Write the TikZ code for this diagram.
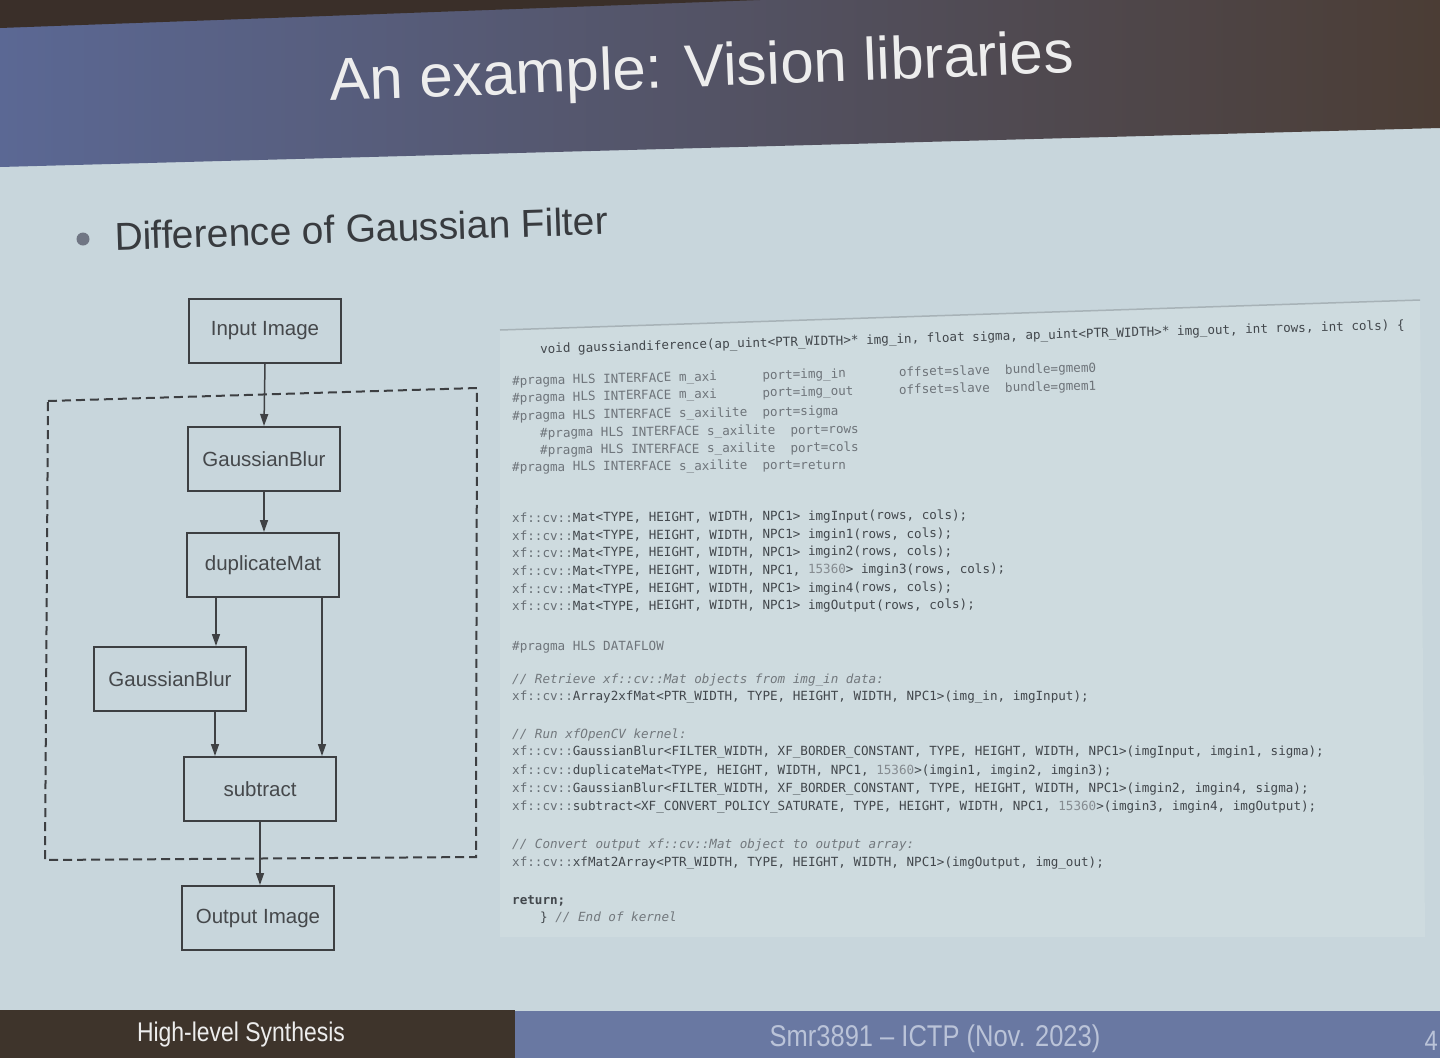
\documentclass[tikz,border=0pt]{standalone}
\usepackage{fontspec}
\setmainfont{Liberation Sans}
\newfontfamily\codefont{DejaVu Sans Mono}
\usetikzlibrary{arrows.meta}
\definecolor{bgc}{HTML}{C8D6DC}
\definecolor{panelc}{HTML}{CEDBDF}
\definecolor{panelline}{HTML}{A7B2B7}
\definecolor{bandL}{HTML}{5B6894}
\definecolor{bandM}{HTML}{4F4550}
\definecolor{bandR}{HTML}{4B3D35}
\definecolor{topdark}{HTML}{3A2F29}
\definecolor{footL}{HTML}{3E342B}
\definecolor{footR}{HTML}{6978A2}
\definecolor{footRtext}{HTML}{BAC3D8}
\definecolor{titlec}{HTML}{EDEDED}
\definecolor{bulletc}{HTML}{707684}
\definecolor{textc}{HTML}{383B3F}
\definecolor{boxline}{HTML}{3D3F42}
\definecolor{boxtext}{HTML}{45484B}
\definecolor{arrc}{HTML}{3F4144}
\definecolor{codec}{HTML}{42474C}
\definecolor{pragmac}{HTML}{6E747A}
\definecolor{cmtc}{HTML}{72787D}
\definecolor{lightc}{HTML}{676E74}
\definecolor{numc}{HTML}{858B90}
\newcommand\sk[1]{\hspace*{#1\dimexpr0.60205em\relax}}
\newcommand\xfp{\textcolor{lightc}{xf::cv::}}
\newcommand\nm[1]{\textcolor{numc}{#1}}
\begin{document}
\begin{tikzpicture}[x=1pt,y=-1pt,
  fbox/.style={draw=boxline, line width=2pt, minimum width=152pt, minimum height=64pt,
    inner sep=0pt, text=boxtext, font=\fontsize{20.5}{24}\selectfont},
  arr/.style={draw=arrc, line width=1.5pt, -{Triangle[length=12pt,width=8pt]}},
  dashbox/.style={draw=boxline, line width=2pt, dash pattern=on 9pt off 5pt},
  code/.style={anchor=west, inner sep=0pt, text=codec, font=\codefont\fontsize{12.6}{14}\selectfont},
  prag/.style={code, text=pragmac},
  cmt/.style={code, text=cmtc, font=\codefont\itshape\fontsize{12.6}{14}\selectfont}]
\useasboundingbox (0,0) rectangle (1440,1058);
\fill[bgc] (0,0) rectangle (1440,1058);
% title band
\shade[left color=bandL, middle color=bandM, right color=bandR]
  (0,0) -- (1440,0) -- (1440,128) -- (0,167) -- cycle;
\fill[topdark] (0,0) -- (760,0) -- (0,28) -- cycle;
\node[anchor=base west, inner sep=0pt, text=titlec, rotate=2.2,
  font=\fontsize{60}{66}\selectfont] (title) at (330,101) {An example: Vision libraries};
% bullet
\fill[bulletc] (83,239) circle (6.5);
\node[anchor=base west, inner sep=0pt, text=textc, rotate=1.8,
  font=\fontsize{39}{44}\selectfont] (bullet) at (115,250) {Difference of Gaussian Filter};
% flowchart
\draw[dashbox] (48,401) -- (477,388) -- (476,857) -- (45,860) -- cycle;
\node[fbox] (in)  at (265,331) {Input Image};
\node[fbox] (gb1) at (264,459) {GaussianBlur};
\node[fbox] (dup) at (263,565) {duplicateMat};
\node[fbox] (gb2) at (170,679) {GaussianBlur};
\node[fbox] (sub) at (260,789) {subtract};
\node[fbox] (out) at (258,918) {Output Image};
\draw[arr] (in.south) -- (gb1.north);
\draw[arr] (gb1.south) -- (gb1.south |- dup.north);
\draw[arr] ([xshift=-47pt]dup.south) -- ([xshift=-47pt]dup.south |- gb2.north);
\draw[arr] ([xshift=59pt]dup.south) -- ([xshift=59pt]dup.south |- sub.north);
\draw[arr] ([xshift=45pt]gb2.south) -- ([xshift=45pt]gb2.south |- sub.north);
\draw[arr] (sub.south) -- (sub.south |- out.north);
% code panel
\fill[panelc] (500,330) -- (1420,300) -- (1425,937) -- (500,937) -- cycle;
\draw[panelline, line width=1.5pt] (500,330) -- (1420,300);
\node[code, rotate=1.6] (c0) at (540,350) {void gaussiandiference(ap\_uint<PTR\_WIDTH>* img\_in, float sigma, ap\_uint<PTR\_WIDTH>* img\_out, int rows, int cols) \{};
\node[prag, rotate=1.3] (p1) at (512,382) {\#pragma HLS INTERFACE m\_axi\sk{6}port=img\_in\sk{7}offset=slave\sk{2}bundle=gmem0};
\node[prag, rotate=1.2] (p2) at (512,399) {\#pragma HLS INTERFACE m\_axi\sk{6}port=img\_out\sk{6}offset=slave\sk{2}bundle=gmem1};
\node[prag, rotate=0.9] (p3) at (512,417) {\#pragma HLS INTERFACE s\_axilite\sk{2}port=sigma};
\node[prag, rotate=0.7] (p4) at (540,434) {\#pragma HLS INTERFACE s\_axilite\sk{2}port=rows};
\node[prag, rotate=0.5] (p5) at (540,451) {\#pragma HLS INTERFACE s\_axilite\sk{2}port=cols};
\node[prag, rotate=0.4] (p6) at (512,468) {\#pragma HLS INTERFACE s\_axilite\sk{2}port=return};
\node[code, rotate=0.4] (m1) at (512,519) {\xfp Mat<TYPE, HEIGHT, WIDTH, NPC1> imgInput(rows, cols);};
\node[code, rotate=0.35] (m2) at (512,537) {\xfp Mat<TYPE, HEIGHT, WIDTH, NPC1> imgin1(rows, cols);};
\node[code, rotate=0.3] (m3) at (512,554) {\xfp Mat<TYPE, HEIGHT, WIDTH, NPC1> imgin2(rows, cols);};
\node[code, rotate=0.3] (m4) at (512,572) {\xfp Mat<TYPE, HEIGHT, WIDTH, NPC1, \nm{15360}> imgin3(rows, cols);};
\node[code, rotate=0.25] (m5) at (512,590) {\xfp Mat<TYPE, HEIGHT, WIDTH, NPC1> imgin4(rows, cols);};
\node[code, rotate=0.2] (m6) at (512,607) {\xfp Mat<TYPE, HEIGHT, WIDTH, NPC1> imgOutput(rows, cols);};
\node[prag] (df) at (512,647) {\#pragma HLS DATAFLOW};
\node[cmt] (k1) at (512,680) {// Retrieve xf::cv::Mat objects from img\_in data:};
\node[code] (a1) at (512,697) {\xfp Array2xfMat<PTR\_WIDTH, TYPE, HEIGHT, WIDTH, NPC1>(img\_in, imgInput);};
\node[cmt] (k2) at (512,735) {// Run xfOpenCV kernel:};
\node[code] (r1) at (512,752) {\xfp GaussianBlur<FILTER\_WIDTH, XF\_BORDER\_CONSTANT, TYPE, HEIGHT, WIDTH, NPC1>(imgInput, imgin1, sigma);};
\node[code] (r2) at (512,771) {\xfp duplicateMat<TYPE, HEIGHT, WIDTH, NPC1, \nm{15360}>(imgin1, imgin2, imgin3);};
\node[code] (r3) at (512,789) {\xfp GaussianBlur<FILTER\_WIDTH, XF\_BORDER\_CONSTANT, TYPE, HEIGHT, WIDTH, NPC1>(imgin2, imgin4, sigma);};
\node[code] (r4) at (512,807) {\xfp subtract<XF\_CONVERT\_POLICY\_SATURATE, TYPE, HEIGHT, WIDTH, NPC1, \nm{15360}>(imgin3, imgin4, imgOutput);};
\node[cmt] (k3) at (512,845) {// Convert output xf::cv::Mat object to output array:};
\node[code] (x1) at (512,863) {\xfp xfMat2Array<PTR\_WIDTH, TYPE, HEIGHT, WIDTH, NPC1>(imgOutput, img\_out);};
\node[code] (ret) at (512,901) {\textbf{return;}};
\node[code] (end) at (540,918) {\} \textcolor{cmtc}{\itshape // End of kernel}};
% footer
\fill[footL] (0,1010) rectangle (515,1058);
\fill[footR] (515,1011) rectangle (1440,1058);
\node[inner sep=0pt, text=titlec] (f1) at (241,1035)
  {\scalebox{0.85}[1]{\fontsize{27}{30}\selectfont High-level Synthesis}};
\node[inner sep=0pt, text=footRtext] (f2) at (935,1039)
  {\scalebox{0.85}[1]{\fontsize{30}{33}\selectfont Smr3891 – ICTP (Nov. 2023)}};
\node[anchor=east, inner sep=0pt, text=footRtext] (f3) at (1438,1041)
  {\scalebox{0.85}[1]{\fontsize{28}{30}\selectfont 4}};
\end{tikzpicture}
\end{document}
